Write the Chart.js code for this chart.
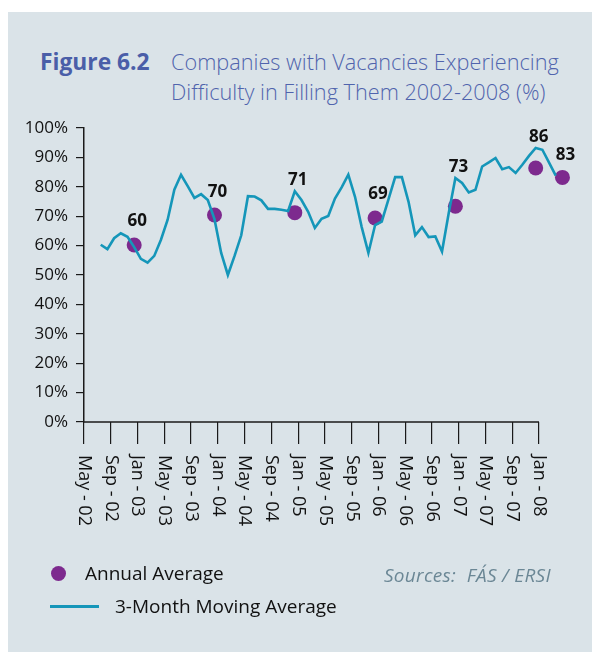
<!DOCTYPE html>
<html><head><meta charset="utf-8">
<script src="https://cdn.jsdelivr.net/npm/chart.js@4.4.1/dist/chart.umd.min.js"></script>
<style>
html,body{margin:0;padding:0;background:#fff;}
body{width:592px;height:652px;position:relative;overflow:hidden;font-family:'Open Sans',sans-serif;}
#panel{position:absolute;left:8px;top:12px;width:584px;height:640px;background:#dae3e8;}
#c{position:absolute;left:0;top:0;}
.t{position:absolute;white-space:pre;line-height:30px;margin:0;}
</style></head>
<body>
<div id="panel"></div>
<div class="t" style="left:40px;top:47px;font-size:22.8px;font-weight:700;color:#4a5ea8">Figure 6.2</div>
<div class="t" style="left:171px;top:47px;font-size:21.7px;font-weight:300;color:#5064ad">Companies with Vacancies Experiencing
Difficulty in Filling Them 2002-2008 (%)</div>
<canvas id="c" width="592" height="652"></canvas>
<div style="position:absolute;left:51px;top:565.5px;width:15px;height:15px;border-radius:50%;background:#7d2a8e"></div>
<div class="t" style="left:85px;top:558px;font-size:19px;color:#111">Annual Average</div>
<div class="t" style="left:384px;top:560px;font-size:19px;letter-spacing:0.3px;font-style:italic;color:#6b8795">Sources:  FÁS / ERSI</div>
<div style="position:absolute;left:50px;top:605px;width:49px;height:2.5px;background:#1596b9"></div>
<div class="t" style="left:115px;top:591px;font-size:19px;color:#111">3-Month Moving Average</div>
<script>
const tickLabels = ['May - 02','Sep - 02','Jan - 03','May - 03','Sep - 03','Jan - 04','May - 04','Sep - 04','Jan - 05','May - 05','Sep - 05','Jan - 06','May - 06','Sep - 06','Jan - 07','May - 07','Sep - 07','Jan - 08'];
// months counted from May 2002 (0); first moving-average value is Jul 2002
const maFirstMonth = 2;
const movingAvg = [60.3,58.8,62.5,64.2,63.0,59.5,55.5,54.2,56.5,62.0,68.8,79.0,84.1,80.2,76.2,77.5,75.5,69.0,57.5,50.0,56.5,63.5,76.8,76.7,75.4,72.5,72.5,72.2,71.8,78.5,75.5,71.5,66.0,69.1,70.1,76.0,79.8,84.1,76.6,66.3,57.5,67.0,68.2,75.7,83.3,83.3,74.9,63.5,66.3,62.9,63.1,58.0,71.0,83.0,81.3,78.1,79.0,86.9,88.3,89.8,86.0,86.7,84.7,87.5,90.5,93.2,92.6,88.2,83.8];
const annualMonths = [7,19,31,43,55,67,71];
const annualAvg = [60.2,70.4,71.2,69.4,73.4,86.4,83.2];
const labelLift = [24,23,33,24,39,31,22];
const lastTickMonth = 68;

const axisLinePlugin = {id:'axl', beforeDatasetsDraw(chart){
  const s = chart.scales.x, ctx = chart.ctx, y = chart.chartArea.bottom;
  ctx.save();
  ctx.strokeStyle = '#1a1a1a'; ctx.lineWidth = 1.5;
  ctx.beginPath();
  ctx.moveTo(s.getPixelForValue(0), y);
  ctx.lineTo(s.getPixelForValue(lastTickMonth), y);
  ctx.stroke();
  ctx.restore();
}};
const xLabelPlugin = {id:'xl', afterDraw(chart){
  const s = chart.scales.x, ctx = chart.ctx;
  ctx.save();
  ctx.font = '18px "Open Sans"'; ctx.fillStyle = '#111';
  ctx.textAlign = 'left'; ctx.textBaseline = 'middle';
  s.ticks.forEach(t => {
    const lab = tickLabels[Math.round(t.value/4)];
    if (lab === undefined) return;
    ctx.save();
    ctx.translate(s.getPixelForValue(t.value), chart.chartArea.bottom + 33);
    ctx.rotate(Math.PI/2);
    ctx.fillText(lab, 0, 0);
    ctx.restore();
  });
  ctx.restore();
}};
const valueLabelPlugin = {id:'vl', afterDatasetsDraw(chart){
  const meta = chart.getDatasetMeta(1), ctx = chart.ctx;
  ctx.save();
  ctx.font = 'bold 17px "Open Sans"'; ctx.fillStyle = '#111';
  ctx.textAlign = 'center'; ctx.textBaseline = 'middle';
  meta.data.forEach((p,i) => ctx.fillText(String(Math.round(annualAvg[i])), p.x + 3, p.y - labelLift[i]));
  ctx.restore();
}};

new Chart(document.getElementById('c'), {
  type: 'line',
  data: {datasets: [
    {label:'3-Month Moving Average', data: movingAvg.map((v,i)=>({x: maFirstMonth + i + 0.5, y: v})),
     borderColor:'#1596b9', borderWidth:2.6, pointRadius:0, tension:0, fill:false, clip:false, order:0},
    {label:'Annual Average', data: annualAvg.map((v,i)=>({x: annualMonths[i] + 0.5, y: v})),
     showLine:false, pointRadius:7.5, pointBackgroundColor:'#7d2a8e', pointBorderWidth:0, clip:false, order:1}
  ]},
  options: {
    responsive:false, animation:false, devicePixelRatio:1,
    layout:{padding:{left:0, top:128, right:26.2, bottom:130}},
    plugins:{legend:{display:false}, tooltip:{enabled:false}},
    scales:{
      x:{type:'linear', afterDataLimits(s){s.min = 0; s.max = 72;}, afterFit(s){s.height = 100;},
         afterBuildTicks(s){ s.ticks = s.ticks.filter(t => t.value <= lastTickMonth); },
         ticks:{display:false, stepSize:4},
         grid:{drawOnChartArea:false, drawTicks:true, tickLength:22, color:'#1a1a1a', lineWidth:1.2},
         border:{display:false}},
      y:{min:0, max:100, afterFit(s){s.width = 84;},
         ticks:{stepSize:10, callback:v => v + '%', color:'#111', font:{family:'Open Sans', size:17}, padding:8},
         grid:{drawOnChartArea:false, tickLength:8, color:'#1a1a1a', lineWidth:1.2},
         border:{color:'#1a1a1a', width:1.5}}
    }
  },
  plugins:[axisLinePlugin, xLabelPlugin, valueLabelPlugin]
});
</script>
</body></html>
